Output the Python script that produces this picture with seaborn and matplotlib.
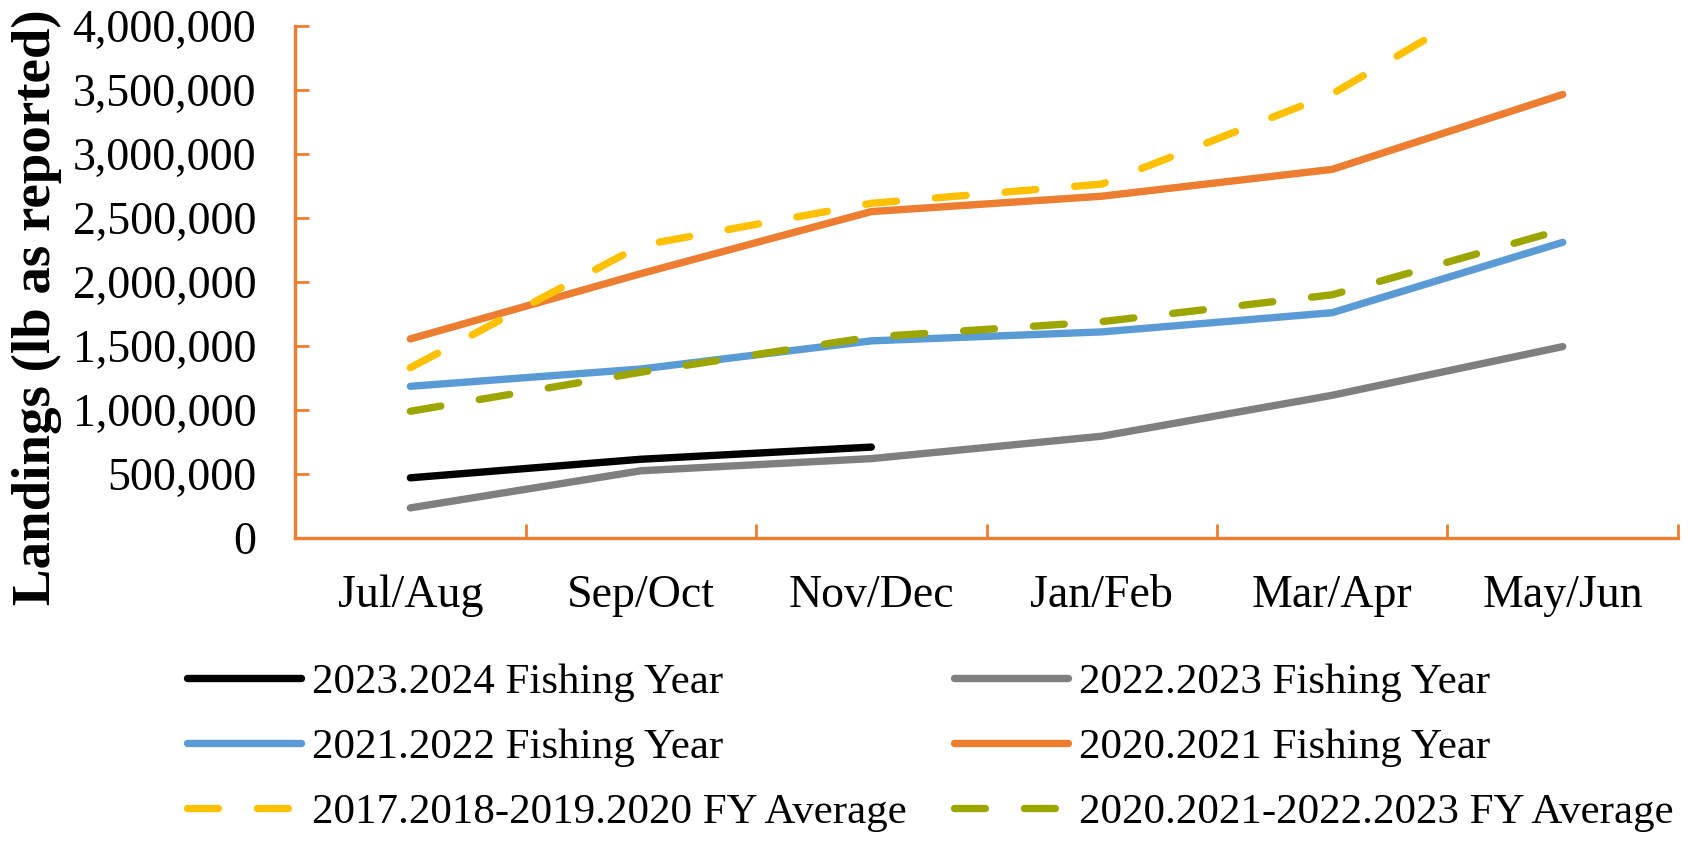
import numpy as np
import pandas as pd
import matplotlib
matplotlib.use("Agg")
import matplotlib.pyplot as plt
import seaborn as sns
from matplotlib.ticker import FuncFormatter, FixedLocator

# ---- data ----
categories = ["Jul/Aug", "Sep/Oct", "Nov/Dec", "Jan/Feb", "Mar/Apr", "May/Jun"]
fy_2023_2024 = [470000, 615000, 710000, np.nan, np.nan, np.nan]
fy_2022_2023 = [235000, 525000, 620000, 795000, 1115000, 1495000]
fy_2021_2022 = [1185000, 1320000, 1540000, 1610000, 1760000, 2310000]
fy_2020_2021 = [1555000, 2065000, 2550000, 2670000, 2880000, 3465000]
avg_2017_2020 = [1330000, 2285000, 2615000, 2765000, 3470000, 4520000]
avg_2020_2023 = [990000, 1295000, 1570000, 1690000, 1900000, 2410000]

series_labels = [
    "2023.2024 Fishing Year",
    "2022.2023 Fishing Year",
    "2021.2022 Fishing Year",
    "2020.2021 Fishing Year",
    "2017.2018-2019.2020 FY Average",
    "2020.2021-2022.2023 FY Average",
]
series_values = [fy_2023_2024, fy_2022_2023, fy_2021_2022, fy_2020_2021,
                 avg_2017_2020, avg_2020_2023]
y_ticks = [0, 500000, 1000000, 1500000, 2000000, 2500000, 3000000, 3500000, 4000000]

# ---- styles ----
colors = ["#000000", "#7F7F7F", "#5B9BD5", "#ED7D31", "#FFC000", "#9DA600"]
dashed = [False, False, False, False, True, True]
axis_color = "#ED7D31"

sns.set_theme(style="white")
plt.rcParams["font.family"] = ["Liberation Serif", "DejaVu Serif"]
plt.rcParams["text.color"] = "black"
plt.rcParams["axes.labelcolor"] = "black"

fig = plt.figure(figsize=(16.91, 8.44), dpi=100)
ax = fig.add_axes([0.1745, 0.3626, 0.9923 - 0.1745, 0.9692 - 0.3626])

xpos = np.arange(len(categories))
lw = 5.3
handles = []
for lab, vals, col, dsh in zip(series_labels, series_values, colors, dashed):
    df = pd.DataFrame({"x": xpos, "y": vals}).dropna()
    sns.lineplot(data=df, x="x", y="y", ax=ax, color=col, linewidth=lw,
                 sort=False, solid_capstyle="round",
                 dash_capstyle="round", legend=False)
    line = ax.lines[-1]
    if dsh:
        line.set_dashes([4.2, 5.3])
    line.set_label(lab)
    handles.append(line)

ax.set_xlim(-0.5, len(categories) - 0.5)
ax.set_ylim(0, 4000000)

ax.set_xticks(xpos)
ax.set_xticklabels(categories)
ax.xaxis.set_minor_locator(FixedLocator(np.arange(0.5, len(categories), 1.0)))
ax.tick_params(axis="x", which="major", length=0, pad=26, labelsize=33,
               colors="black")
ax.tick_params(axis="x", which="minor", length=10, width=2, direction="in",
               color=axis_color, bottom=True)

ax.set_yticks(y_ticks)
ax.yaxis.set_major_formatter(FuncFormatter(lambda v, p: f"{int(v):,}"))
ax.tick_params(axis="y", which="major", length=10, width=2, direction="in",
               color=axis_color, labelcolor="black", labelsize=33, pad=28,
               left=True)

for s in ["top", "right"]:
    ax.spines[s].set_visible(False)
for s in ["left", "bottom"]:
    ax.spines[s].set_color(axis_color)
    ax.spines[s].set_linewidth(2.4)

ax.set_xlabel("")
ax.set_ylabel("Landings (lb as reported)", fontsize=39.5, fontweight="bold",
              color="black", va="center")
ax.yaxis.set_label_coords(-0.187, 0.451)

# legend filled row-wise (2 columns x 3 rows)
order = [0, 2, 4, 1, 3, 5]
leg = fig.legend(handles=[handles[i] for i in order],
                 labels=[series_labels[i] for i in order], ncol=2,
                 loc="upper left", bbox_to_anchor=(0.1105, 0.215),
                 frameon=False, fontsize=31, handlelength=2.65,
                 handletextpad=0.25, columnspacing=1.1, labelspacing=0.61,
                 borderpad=0, borderaxespad=0)
for h in leg.get_lines():
    h.set_linewidth(lw)
for t in leg.get_texts():
    t.set_color("black")

fig.savefig("out.png", dpi=100, facecolor="white")
